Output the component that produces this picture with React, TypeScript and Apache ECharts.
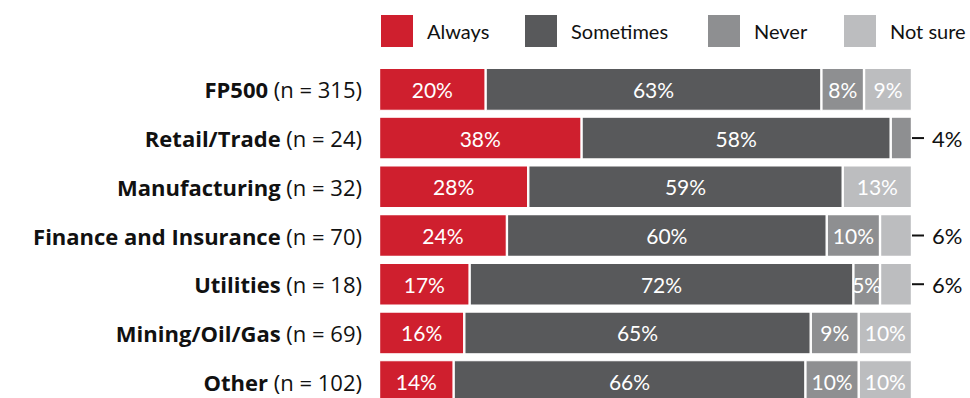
import React, { useEffect, useRef } from "react";
import * as echarts from "echarts";

// Survey responses by sector, share of respondents (%)
const sectors = [
  "FP500",
  "Retail/Trade",
  "Manufacturing",
  "Finance and Insurance",
  "Utilities",
  "Mining/Oil/Gas",
  "Other",
];
const sampleSizes = [315, 24, 32, 70, 18, 69, 102];

const always = [20, 38, 28, 24, 17, 16, 14];
const sometimes = [63, 58, 59, 60, 72, 65, 66];
const never = [8, 4, 0, 10, 5, 9, 10];
const notSure = [9, 0, 13, 6, 6, 10, 10];

const seriesNames = ["Always", "Sometimes", "Never", "Not sure"];
const seriesColors = ["#CF1F2E", "#58595B", "#8E8F91", "#BCBDBF"];

// segments too narrow for an inside label get theirs beside the bar
const outsideNever = ["Retail/Trade"];
const outsideNotSure = ["Finance and Insurance", "Utilities"];

const FONT = "Lato, 'Open Sans', sans-serif";
const CAT_FONT = "'Open Sans', Lato, sans-serif";
const legendLefts = [379, 523, 706, 842];

function buildData(values: number[], outside: string[]) {
  return values.map((v, i) => {
    if (outside.includes(sectors[i])) {
      return {
        value: v,
        label: {
          show: true,
          position: "right",
          distance: 0,
          formatter: "{d|}{t|" + v + "%}",
          rich: {
            d: { width: 12, height: 2, backgroundColor: "#111" },
            t: { fontSize: 22, fontFamily: FONT, color: "#111", padding: [0, 0, 0, 8] },
          },
        },
      };
    }
    return { value: v };
  });
}

export default function App() {
  const ref = useRef<HTMLDivElement>(null);

  useEffect(() => {
    if (!ref.current) return;
    const chart = echarts.init(ref.current, null, { renderer: "svg" });

    const seriesValues = [always, sometimes, never, notSure];
    const outsides = [[], [], outsideNever, outsideNotSure];

    const series = seriesValues.map((vals, k) => ({
      name: seriesNames[k],
      type: "bar",
      stack: "total",
      barWidth: 43,
      itemStyle: { color: seriesColors[k], borderColor: "#fff", borderWidth: 1.2 },
      label: {
        show: true,
        position: "inside",
        color: "#fff",
        fontFamily: FONT,
        fontSize: 21,
        formatter: (p: any) => (p.value > 0 ? p.value + "%" : ""),
      },
      data: buildData(vals, outsides[k] as string[]),
    }));

    const legends = seriesNames.map((name, k) => ({
      data: [name],
      left: legendLefts[k],
      top: 13,
      padding: 0,
      itemWidth: 34,
      itemHeight: 34,
      icon: "rect",
      selectedMode: false,
      textStyle: {
        fontFamily: FONT,
        fontSize: 20,
        color: "#111",
        padding: [0, 0, 0, 8],
      },
    }));

    chart.setOption({
      animation: false,
      legend: legends,
      grid: { left: 379, right: 58, top: 65, bottom: 0 },
      xAxis: {
        type: "value",
        min: 0,
        max: 100,
        show: false,
      },
      yAxis: {
        type: "category",
        inverse: true,
        data: sectors,
        axisLine: { show: false },
        axisTick: { show: false },
        axisLabel: {
          margin: 17,
          formatter: (v: string) => {
            const i = sectors.indexOf(v);
            return "{b|" + v + "}{r| (n = " + sampleSizes[i] + ")}";
          },
          rich: {
            b: { fontFamily: CAT_FONT, fontSize: 22, fontWeight: "bold", color: "#111" },
            r: { fontFamily: CAT_FONT, fontSize: 22, color: "#111" },
          },
        },
      },
      series,
    });

    return () => chart.dispose();
  }, []);

  return (
    <div
      ref={ref}
      style={{ position: "fixed", left: 0, top: 0, width: 970, height: 406, background: "#fff" }}
    />
  );
}
